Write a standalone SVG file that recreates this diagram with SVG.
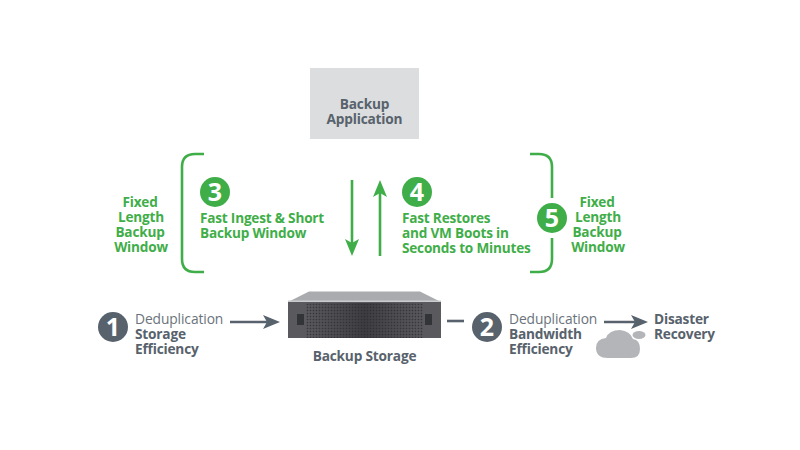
<svg xmlns="http://www.w3.org/2000/svg" width="800" height="450" viewBox="0 0 800 450">
<style>
text{font-family:"Open Sans","Noto Sans","DejaVu Sans",sans-serif}
.g{fill:#3fae49;font-weight:700;font-size:13.6px;letter-spacing:-.2px}
.s{fill:#58626c;font-weight:700;font-size:13.7px;letter-spacing:-.2px}
.r{fill:#6a737b;font-size:13.8px;letter-spacing:-.1px}
.m{text-anchor:middle}
.n{font-weight:700;font-size:25px;fill:#fff;text-anchor:middle}
.gl{fill:none;stroke:#3fae49;stroke-width:2.6}
.sl{fill:none;stroke:#58626c;stroke-width:2.6}
</style>
<defs>
<pattern id="grille" width="3" height="3" patternUnits="userSpaceOnUse"><rect width="3" height="3" fill="#5c5c60"/><rect x=".7" y=".7" width="1.6" height="1.6" fill="#37373b"/></pattern>
<linearGradient id="fade" x1="0" x2="1" y1="0" y2="0"><stop offset="0" stop-color="#333337" stop-opacity="0"/><stop offset=".5" stop-color="#2a2a2e" stop-opacity=".6"/><stop offset="1" stop-color="#333337" stop-opacity="0"/></linearGradient>
</defs>
<rect width="800" height="450" fill="#fff"/>
<g id="connectors">
<path class="gl" d="M204 154H195Q182 154 182 167V259Q182 272 195 272H204"/>
<path class="gl" d="M530 154H539Q552 154 552 167V198M552 238V259Q552 272 539 272H530"/>
<path class="gl" d="M352 180V245"/>
<path d="M345 239L352 256L359 239L352 243Z" fill="#3fae49"/>
<path class="gl" d="M380 256V190"/>
<path d="M373 197L380 180L387 197L380 193Z" fill="#3fae49"/>
<path class="sl" d="M230 322H270"/>
<path d="M263 315L280 322L263 329L267 322Z" fill="#58626c"/>
<path class="sl" d="M447 321H464"/>
<path class="sl" d="M604 322H640"/>
<path d="M631 315L648 322L631 329L635 322Z" fill="#58626c"/>
</g>
<g id="backup-application">
<rect x="310" y="68" width="109" height="71" fill="#dcdddf"/>
<text class="s m" x="364.500" y="109">Backup</text>
<text class="s m" x="364.500" y="124">Application</text>
</g>
<g id="fixed-left">
<text class="g m" x="140" y="207">Fixed</text>
<text class="g m" x="141" y="222">Length</text>
<text class="g m" x="140" y="237">Backup</text>
<text class="g m" x="141" y="252">Window</text>
</g>
<g id="node-3">
<circle cx="215" cy="192" r="15" fill="#3fae49"/>
<text class="n" x="215" y="201">3</text>
<text class="g" x="200" y="223">Fast Ingest &amp; Short</text>
<text class="g" x="200" y="238">Backup Window</text>
</g>
<g id="node-4">
<circle cx="417" cy="192" r="15" fill="#3fae49"/>
<text class="n" x="417" y="201">4</text>
<text class="g" x="402" y="223">Fast Restores</text>
<text class="g" x="402" y="238">and VM Boots in</text>
<text class="g" x="402" y="253">Seconds to Minutes</text>
</g>
<g id="node-5">
<circle cx="552" cy="218" r="15" fill="#3fae49"/>
<text class="n" x="552" y="227">5</text>
<text class="g m" x="597" y="207">Fixed</text>
<text class="g m" x="598" y="222">Length</text>
<text class="g m" x="597" y="237">Backup</text>
<text class="g m" x="598" y="252">Window</text>
</g>
<g id="node-1">
<circle cx="113" cy="327" r="15" fill="#58626c"/>
<text class="n" x="113" y="336">1</text>
<text class="r" x="135" y="324">Deduplication</text>
<text class="s" x="135" y="339">Storage</text>
<text class="s" x="135" y="354">Efficiency</text>
</g>
<g id="backup-storage">
<path d="M288 302L309 291.500H420L441 302Z" fill="#a9abae"/>
<rect x="288" y="300.500" width="153" height="2" fill="#c9cbcd"/>
<rect x="288" y="302" width="153" height="36" fill="#5a5a5e"/>
<rect x="306" y="303" width="117" height="35" fill="url(#grille)"/>
<rect x="306" y="303" width="117" height="35" fill="url(#fade)"/>
<rect x="297" y="314" width="7" height="11" fill="#333438"/>
<rect x="425" y="314" width="7" height="11" fill="#333438"/>
<text class="s m" x="364.500" y="361">Backup Storage</text>
</g>
<g id="node-2">
<circle cx="487" cy="327" r="15" fill="#58626c"/>
<text class="n" x="487" y="336">2</text>
<text class="r" x="509" y="324">Deduplication</text>
<text class="s" x="509" y="339">Bandwidth</text>
<text class="s" x="509" y="354">Efficiency</text>
</g>
<g id="disaster-recovery">
<text class="s" x="654" y="324">Disaster</text>
<text class="s" x="654" y="339">Recovery</text>
<path d="M608 358Q596 358 596 348Q596 339 606 338Q609 330 620 330Q630 331 633 339Q640 340 640 349Q640 358 631 358Z" fill="#b3b5b8"/>
<ellipse cx="639" cy="335" rx="6.500" ry="4" fill="#b3b5b8"/>
</g>
</svg>
